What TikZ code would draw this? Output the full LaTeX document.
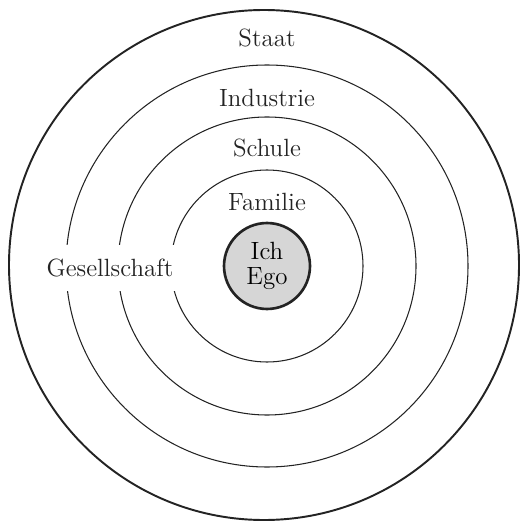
\documentclass[tikz,border=0pt]{standalone}
\usepackage{xcolor}
\usepackage{tikz}
\usetikzlibrary{positioning}
\definecolor{myink}{RGB}{35,35,35}
\definecolor{egofill}{RGB}{214,214,214}
\tikzset{
  ring/.style={draw=myink, line width=0.6pt},
  outerring/.style={draw=myink, line width=1.1pt},
  egonode/.style={circle, draw=myink, fill=egofill, line width=1.5pt,
    minimum size=1.72cm, inner sep=0pt, align=center,
    font=\fontsize{14.2}{16}\selectfont},
  label/.style={font=\fontsize{14.2}{16}\selectfont, text=myink, inner sep=1pt}
}
\begin{document}
\begin{tikzpicture}[x=0.02cm, y=-0.02cm]
  \useasboundingbox (0,0) rectangle (520,523);
  \coordinate (M) at (267,266);
  \draw[outerring] (264,265) circle (255);
  \draw[ring] (M) circle (201);
  \draw[ring] (M) circle (149);
  \draw[ring] (M) circle (96);

  \node[egonode] (ego) at (M) {Ich\\[-2pt]Ego};

  \node[label] (staat) at (267,38) {Staat};
  \node[label] (industrie) at (267,98) {Industrie};
  \node[label] (schule) at (267,148) {Schule};
  \node[label] (familie) at (267,202) {Familie};
  \node[label, fill=white, inner xsep=2pt, inner ysep=8pt] (gesell) at (110,268) {Gesellschaft};
\end{tikzpicture}
\end{document}
